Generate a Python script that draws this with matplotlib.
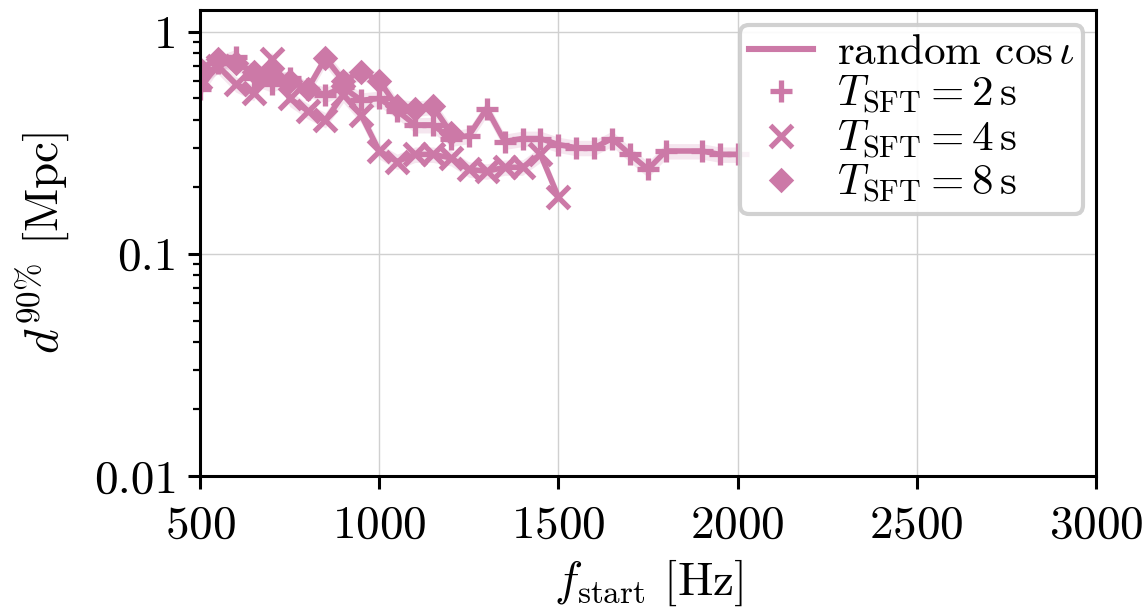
import matplotlib
matplotlib.use("Agg")
import matplotlib.pyplot as plt
from matplotlib.lines import Line2D
from matplotlib.ticker import FixedLocator, FixedFormatter, LogLocator, NullFormatter

# data (50 Hz steps)
f_2s = [500, 550, 600, 650, 700, 750, 800, 850, 900, 950, 1000, 1050, 1100, 1150,
        1200, 1250, 1300, 1350, 1400, 1450, 1500, 1550, 1600, 1650, 1700, 1750,
        1800, 1900, 1950, 2000]
d_2s = [0.55, 0.72, 0.77, 0.62, 0.58, 0.62, 0.55, 0.52, 0.56, 0.49, 0.50, 0.44, 0.38, 0.38,
        0.33, 0.34, 0.45, 0.32, 0.33, 0.33, 0.31, 0.30, 0.30, 0.33, 0.28, 0.24,
        0.29, 0.29, 0.28, 0.28]

f_4s = [500, 550, 600, 650, 700, 750, 800, 850, 900, 950, 1000, 1050, 1100, 1150,
        1200, 1250, 1300, 1350, 1400, 1450, 1500]
d_4s = [0.62, 0.70, 0.58, 0.53, 0.75, 0.50, 0.44, 0.40, 0.52, 0.42, 0.29, 0.26, 0.28, 0.28,
        0.27, 0.24, 0.235, 0.245, 0.245, 0.28, 0.18]

f_8s = [500, 550, 600, 650, 700, 750, 800, 850, 900, 950, 1000, 1050, 1100, 1150, 1200]
d_8s = [0.68, 0.75, 0.72, 0.66, 0.64, 0.60, 0.55, 0.76, 0.60, 0.66, 0.60, 0.46, 0.45, 0.46, 0.35]

series = [(f_2s, d_2s, '+', r'$T_{\rm SFT} = 2\,{\rm s}$'),
          (f_4s, d_4s, 'x', r'$T_{\rm SFT} = 4\,{\rm s}$'),
          (f_8s, d_8s, 'D', r'$T_{\rm SFT} = 8\,{\rm s}$')]

yticks = [0.01, 0.1, 1]
ytick_labels = ['0.01', '0.1', '1']
xticks = [500, 1000, 1500, 2000, 2500, 3000]

col = '#CC79A7'

plt.rcParams['font.family'] = 'serif'
plt.rcParams['font.serif'] = ['cmr10', 'DejaVu Serif']
plt.rcParams['mathtext.fontset'] = 'cm'
plt.rcParams['axes.formatter.use_mathtext'] = True

fig = plt.figure(figsize=(5.735, 3.065), dpi=200)
ax = fig.add_axes([0.1744, 0.2235, 0.7811, 0.7602])

def msize(m):
    return 4.8 if m == 'D' else 8

for f, d, m, lab in series:
    lo = [v * 0.92 for v in d]
    hi = [v * 1.08 for v in d]
    ax.fill_between(f, lo, hi, color=col, alpha=0.18, lw=0)
    ax.plot(f, d, color=col, lw=2.0, marker=m, ms=msize(m), mew=1.9)

ax.set_yscale('log')
ax.set_xlim(500, 3000)
ax.set_ylim(0.01, 1.25)
ax.set_xticks(xticks)
ax.yaxis.set_major_locator(FixedLocator(yticks))
ax.yaxis.set_major_formatter(FixedFormatter(ytick_labels))
ax.yaxis.set_minor_locator(LogLocator(base=10, subs=range(2, 10)))
ax.yaxis.set_minor_formatter(NullFormatter())

ax.grid(True, which='major', color='#d0d0d0', lw=0.5)
ax.set_axisbelow(True)
for s in ax.spines.values():
    s.set_linewidth(1.1)
ax.tick_params(which='major', direction='out', length=4.5, width=1.1, labelsize=17)
ax.tick_params(which='minor', direction='out', length=2.5, width=0.8)
ax.tick_params(axis='x', pad=6)

ax.set_xlabel(r'$f_{\rm start}$ [Hz]', fontsize=17, labelpad=4)
ax.set_ylabel(r'$d^{90\%}$ [Mpc]', fontsize=17, labelpad=8)

handles = [Line2D([], [], color=col, lw=2.2)]
labels = [r'random $\cos\iota$']
for f, d, m, lab in series:
    handles.append(Line2D([], [], color=col, ls='none', marker=m, ms=msize(m), mew=1.9))
    labels.append(lab)
leg = ax.legend(handles, labels, loc='upper right', bbox_to_anchor=(0.986, 0.968),
                fontsize=15.5, framealpha=0.9, edgecolor='#cccccc',
                borderaxespad=0, borderpad=0.2, handlelength=1.5, handletextpad=0.55,
                labelspacing=0.05, fancybox=True)
leg.get_frame().set_linewidth(1.5)

fig.savefig('out.png', dpi=200)
